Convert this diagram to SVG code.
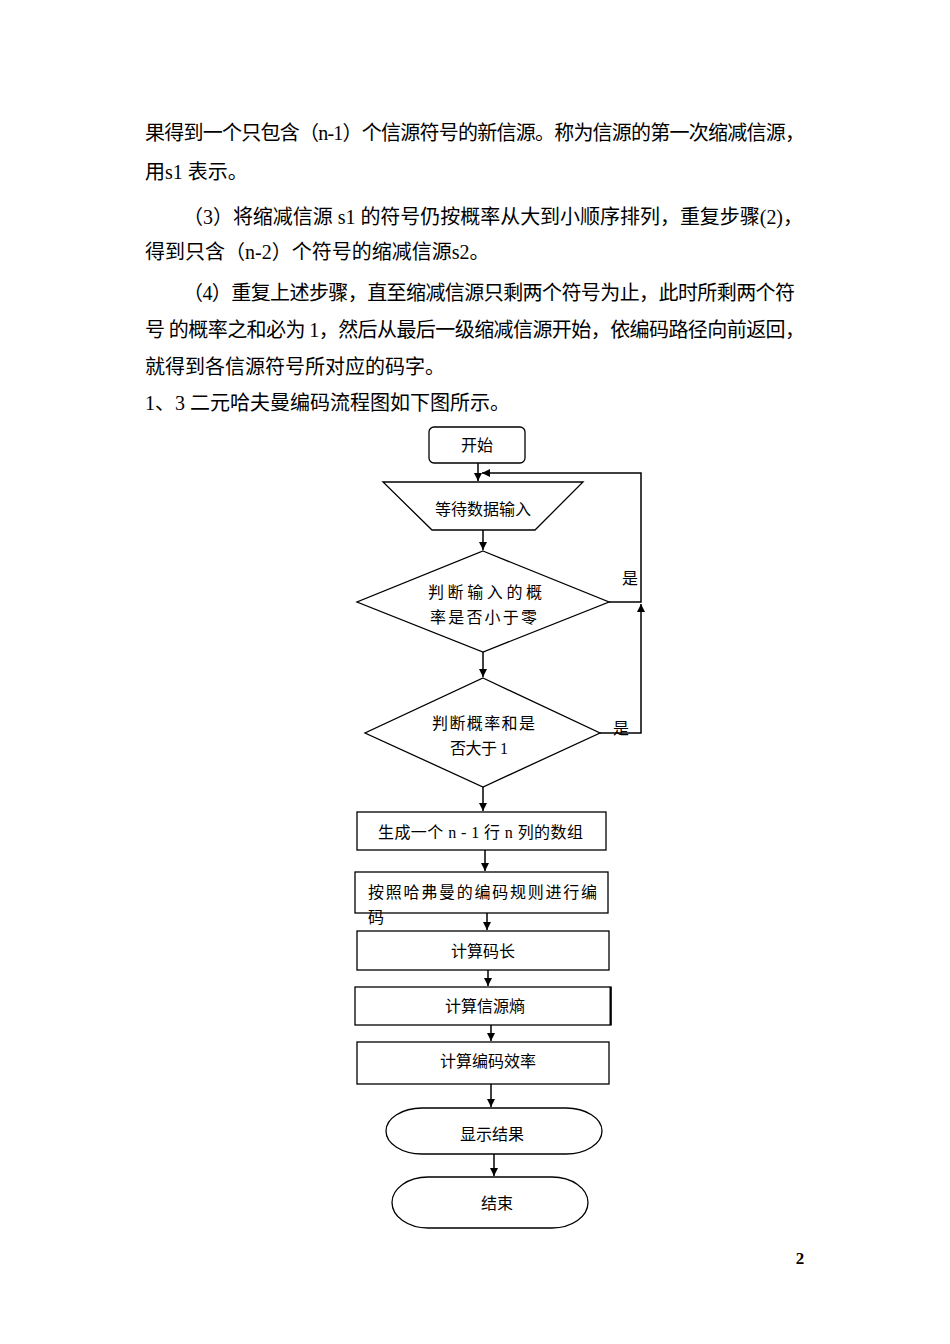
<svg xmlns="http://www.w3.org/2000/svg" width="950" height="1344" viewBox="0 0 950 1344">
<style>
.body{font-family:"Liberation Serif","Noto Sans CJK SC",serif;font-size:20px;fill:#000}
.fc{font-family:"Liberation Serif","Noto Sans CJK SC",serif;font-size:16px;fill:#000}
.shape{fill:#fff;stroke:#000;stroke-width:1.3}
.conn{fill:none;stroke:#000;stroke-width:1.5}
.pg{font-family:"Liberation Serif",serif;font-size:17px;font-weight:bold;fill:#000}
</style>
<defs>
<marker id="arr" markerUnits="userSpaceOnUse" markerWidth="9" markerHeight="9" refX="8" refY="4" orient="auto">
<path d="M0,0 L8,4 L0,8 z" fill="#000"/>
</marker>
</defs>
<rect x="0" y="0" width="950" height="1344" fill="#fff"/>
<g id="bodytext">
<text class="body" x="145" y="140" textLength="660" lengthAdjust="spacing">果得到一个只包含（n-1）个信源符号的新信源。称为信源的第一次缩减信源，</text>
<text class="body" x="145" y="179">用s1 表示。</text>
<text class="body" x="183" y="224" textLength="620" lengthAdjust="spacing">（3）将缩减信源 s1 的符号仍按概率从大到小顺序排列，重复步骤(2)，</text>
<text class="body" x="145" y="259">得到只含（n-2）个符号的缩减信源s2。</text>
<text class="body" x="183" y="300" textLength="612" lengthAdjust="spacing">（4）重复上述步骤，直至缩减信源只剩两个符号为止，此时所剩两个符</text>
<text class="body" x="145" y="337" textLength="660" lengthAdjust="spacing">号  的概率之和必为 1，然后从最后一级缩减信源开始，依编码路径向前返回，</text>
<text class="body" x="145" y="374">就得到各信源符号所对应的码字。</text>
<text class="body" x="145" y="410">1、3 二元哈夫曼编码流程图如下图所示。</text>
</g>
<g id="connectors">
<line class="conn" x1="478" y1="463" x2="478" y2="481" marker-end="url(#arr)"/>
<polyline class="conn" points="609,602 641,602 641,473 482,473" marker-end="url(#arr)"/>
<line class="conn" x1="483" y1="530" x2="483" y2="550" marker-end="url(#arr)"/>
<line class="conn" x1="483" y1="652" x2="483" y2="677" marker-end="url(#arr)"/>
<polyline class="conn" points="600,733 641,733 641,604" marker-end="url(#arr)"/>
<line class="conn" x1="483" y1="787" x2="483" y2="811" marker-end="url(#arr)"/>
<line class="conn" x1="485" y1="850" x2="485" y2="871" marker-end="url(#arr)"/>
<line class="conn" x1="487" y1="913" x2="487" y2="930" marker-end="url(#arr)"/>
<line class="conn" x1="488" y1="970" x2="488" y2="986" marker-end="url(#arr)"/>
<line class="conn" x1="491" y1="1025" x2="491" y2="1041" marker-end="url(#arr)"/>
<line class="conn" x1="491" y1="1084" x2="491" y2="1107" marker-end="url(#arr)"/>
<line class="conn" x1="494" y1="1154" x2="494" y2="1176" marker-end="url(#arr)"/>
<text class="fc" x="630" y="584" text-anchor="middle">是</text>
<text class="fc" x="621" y="734" text-anchor="middle">是</text>
</g>
<g id="start">
<rect class="shape" x="429" y="427" width="96" height="36" rx="5" ry="5"/>
<text class="fc" x="477" y="451" text-anchor="middle">开始</text>
</g>
<g id="input">
<polygon class="shape" points="383,482 583,482 535,530 432,530"/>
<text class="fc" x="483" y="515" text-anchor="middle">等待数据输入</text>
</g>
<g id="decision1">
<polygon class="shape" points="483,551 609,602 483,652 357,602"/>
<text class="fc" x="428" y="598" textLength="114" lengthAdjust="spacing">判断输入的概</text>
<text class="fc" x="430" y="623" textLength="107" lengthAdjust="spacing">率是否小于零</text>
</g>
<g id="decision2">
<polygon class="shape" points="483,678 600,733 483,787 365,733"/>
<text class="fc" x="432" y="729" textLength="103" lengthAdjust="spacing">判断概率和是</text>
<text class="fc" x="450" y="754" textLength="58" lengthAdjust="spacing">否大于 1</text>
</g>
<g id="box1">
<rect class="shape" x="357" y="812" width="249" height="38"/>
<text class="fc" x="378" y="838" textLength="205" lengthAdjust="spacing">生成一个 n - 1 行 n 列的数组</text>
</g>
<g id="box2">
<rect class="shape" x="355" y="872" width="253" height="41"/>
<text class="fc" x="368" y="898" textLength="229" lengthAdjust="spacing">按照哈弗曼的编码规则进行编</text>
<text class="fc" x="368" y="923">码</text>
</g>
<g id="box3">
<rect class="shape" x="357" y="931" width="252" height="39"/>
<text class="fc" x="483" y="957" text-anchor="middle">计算码长</text>
</g>
<g id="box4">
<rect class="shape" x="355" y="987" width="256" height="38"/>
<line x1="610.5" y1="987" x2="610.5" y2="1025" stroke="#000" stroke-width="2"/>
<text class="fc" x="485" y="1012" text-anchor="middle">计算信源熵</text>
</g>
<g id="box5">
<rect class="shape" x="357" y="1042" width="252" height="42"/>
<text class="fc" x="488" y="1067" text-anchor="middle">计算编码效率</text>
</g>
<g id="display">
<rect class="shape" x="386" y="1108" width="216" height="46" rx="36" ry="23"/>
<text class="fc" x="492" y="1140" text-anchor="middle">显示结果</text>
</g>
<g id="end">
<rect class="shape" x="392" y="1177" width="196" height="51" rx="36" ry="25.5"/>
<text class="fc" x="497" y="1209" text-anchor="middle">结束</text>
</g>
<text class="pg" x="800" y="1264" text-anchor="middle">2</text>
</svg>
